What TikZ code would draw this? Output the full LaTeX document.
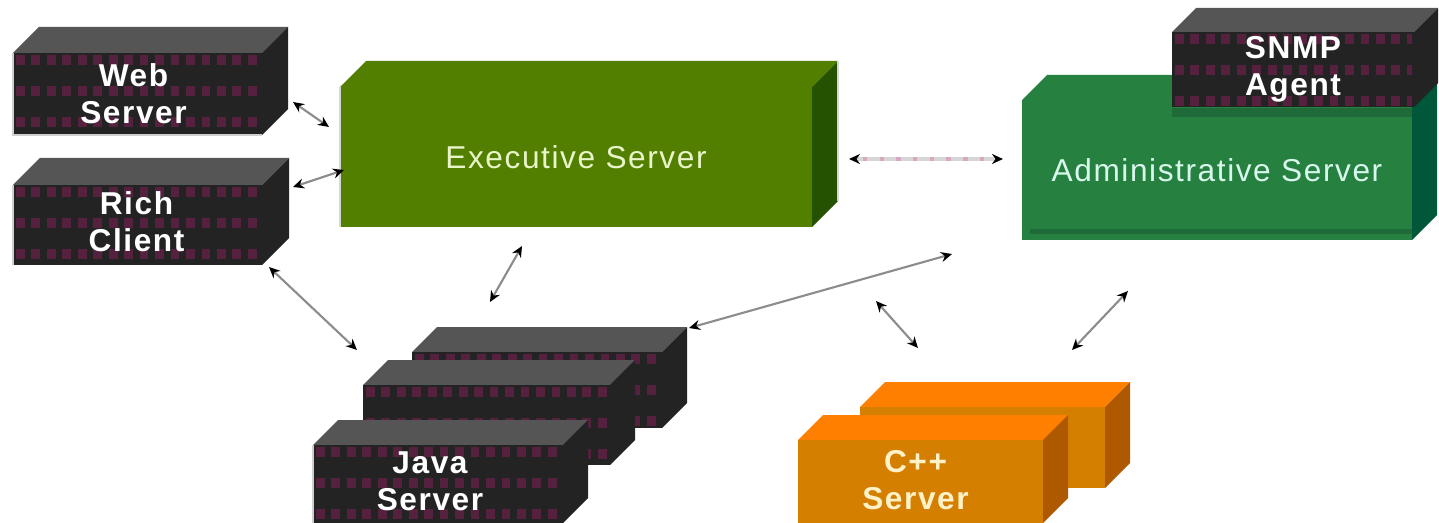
\documentclass[tikz,border=0pt]{standalone}
\usepackage{fontspec}
\setmainfont{Liberation Sans}
\newfontfamily\lblfont[LetterSpace=5]{Liberation Sans}
\usetikzlibrary{arrows.meta,fit,calc}

\definecolor{rackfront}{HTML}{232323}
\definecolor{racktop}{HTML}{555555}
\definecolor{rackslot}{HTML}{55213E}
\definecolor{execfront}{HTML}{537F00}
\definecolor{execside}{HTML}{245200}
\definecolor{admfront}{HTML}{26803F}
\definecolor{admside}{HTML}{00573A}
\definecolor{admstripe}{HTML}{1E6A38}
\definecolor{cppfront}{HTML}{D57F00}
\definecolor{cpptop}{HTML}{FF7F00}
\definecolor{cppside}{HTML}{AE5800}
\definecolor{wire}{HTML}{8C8C8C}
\definecolor{rimgray}{HTML}{CFCFCF}
\definecolor{exectext}{HTML}{E8F5C8}
\definecolor{softgray}{HTML}{D6D6D6}
\definecolor{admtext}{HTML}{D8F8EE}
\definecolor{cpptext}{HTML}{FFF2C8}
\definecolor{dotpink}{HTML}{D8A8C0}

\tikzset{
  face/.style={inner sep=0pt, outer sep=0pt},
  darklabel/.style={text=white, font=\lblfont\bfseries\fontsize{18}{21}\selectfont, align=center},
  execlabel/.style={text=exectext, font=\lblfont\fontsize{18}{21}\selectfont, align=center},
  link/.style={draw=wire, line width=1.2pt,
    {Stealth[length=2.2mm,width=2mm,black]}-{Stealth[length=2.2mm,width=2mm,black]}},
  softlink/.style={draw=softgray, line width=2.4pt,
    {Stealth[length=2.2mm,width=2mm,black]}-{Stealth[length=2.2mm,width=2mm,black]}},
}

% box: name, x0, y0, x1, y1 (front face), depth, front, top, side
\newcommand{\srvbox}[9]{%
  \fill[#8] (#2,#3) -- ++(#6,-#6) -- (#4+#6,#3-#6) -- (#4,#3) -- cycle;
  \fill[#9] (#4,#3) -- (#4+#6,#3-#6) -- (#4+#6,#5-#6) -- (#4,#5) -- cycle;
  \node[face, fill=#7, fit={(#2,#3)(#4,#5)}] (#1) {};
}
% rack slots on a dark front face
\newcommand{\slots}[4]{%
  \begin{scope}
    \clip (#1,#2) rectangle (#3,#4);
    \foreach \r in {7,38,69} {
      \draw[rackslot, line width=5.5pt, dash pattern=on 5pt off 3.8pt]
        (#1+3,#2+\r) -- (#3-2,#2+\r);
    }
  \end{scope}
}

\begin{document}
\begin{tikzpicture}[x=0.02cm, y=-0.02cm]
\useasboundingbox[fill=white] (0,0) rectangle (1439,523);

% web server
\srvbox{web}{13}{53}{262}{135}{26}{rackfront}{racktop}{rackfront}
\slots{13}{53}{262}{135}
\draw[rimgray, line width=1.2pt] (13,53) -- (13,135) -- (262,135);
\node[darklabel] at ($(web)+(-4,0)$) {Web\\Server};

% rich client
\srvbox{rich}{13}{185}{262}{265}{27}{rackfront}{racktop}{rackfront}
\slots{13}{185}{262}{265}
\draw[rimgray, line width=1.2pt] (13,185) -- (13,265);
\node[darklabel] at ($(rich)+(-1,-3)$) {Rich\\Client};

% executive server
\srvbox{exec}{340}{87}{812}{227}{26}{execfront}{execfront}{execside}
\draw[softgray, line width=1.2pt] (340,87) -- (340,227);
\draw[softgray, line width=1.2pt] (838,61) -- (838,201);
\node[execlabel] at (exec) {Executive Server};

% administrative server
\srvbox{adm}{1022}{100}{1412}{240}{25}{admfront}{admfront}{admside}
\fill[admstripe] (1172,108) rectangle (1412,117);
\fill[admstripe] (1030,229) rectangle (1412,234);
\node[text=admtext, font=\lblfont\fontsize{18}{21}\selectfont] at (adm) {Administrative Server};

% snmp agent
\srvbox{snmp}{1172}{32}{1414}{107}{24}{rackfront}{racktop}{rackfront}
\slots{1172}{32}{1414}{107}
\node[darklabel] at (snmp) {SNMP\\Agent};

% java servers
\srvbox{javac}{412}{352}{662}{428}{25}{rackfront}{racktop}{rackfront}
\slots{412}{352}{662}{428}
\srvbox{javab}{363}{385}{610}{465}{25}{rackfront}{racktop}{rackfront}
\slots{363}{385}{610}{465}
\srvbox{java}{313}{445}{563}{523}{25}{rackfront}{racktop}{rackfront}
\slots{313}{445}{563}{523}
\draw[rimgray, line width=1.2pt] (313,445) -- (313,523);
\node[darklabel] at ($(java)+(-8,-3)$) {Java\\Server};

% c++ servers
\srvbox{cppb}{860}{407}{1105}{488}{25}{cppfront}{cpptop}{cppside}
\srvbox{cpp}{798}{440}{1043}{523}{25}{cppfront}{cpptop}{cppside}
\node[text=cpptext, font=\lblfont\bfseries\fontsize{18}{21}\selectfont, align=center]
  at ($(cpp)+(-5,-1)$) {C++\\Server};

% connector ends
\coordinate (w1) at (293,102);  \coordinate (w2) at (329,127);
\coordinate (r1) at (293,187);  \coordinate (r2) at (344,170);
\coordinate (r3) at (269,267);  \coordinate (j1) at (357,350);
\coordinate (e1) at (522,246);  \coordinate (j2) at (490,302);
\coordinate (e2) at (849,159);  \coordinate (a1) at (1003,159);
\coordinate (j3) at (689,328);  \coordinate (a2) at (952,254);
\coordinate (m1) at (876,301);  \coordinate (c1) at (918,348);
\coordinate (a3) at (1128,291); \coordinate (c2) at (1072,350);

\draw[link] (w1) -- (w2);
\draw[link] (r1) -- (r2);
\draw[link] (r3) -- (j1);
\draw[link] (e1) -- (j2);
\draw[softlink] (e2) -- (a1);
\draw[dotpink, line width=2.4pt, dash pattern=on 2.5pt off 7pt] ($(e2)+(14,0)$) -- ($(a1)+(-14,0)$);
\draw[link] (j3) -- (a2);
\draw[link] (m1) -- (c1);
\draw[link] (a3) -- (c2);
\end{tikzpicture}
\end{document}
